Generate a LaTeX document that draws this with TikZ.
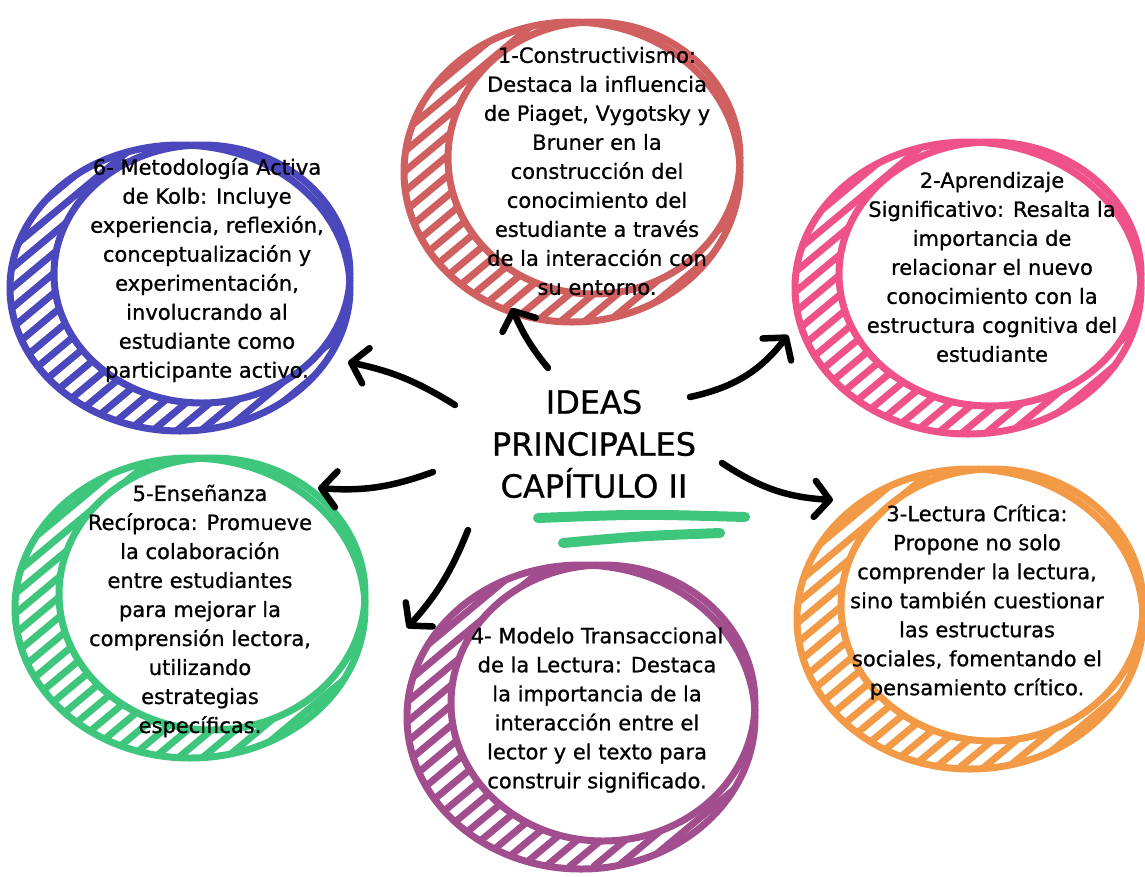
\documentclass[tikz,border=0pt]{standalone}
\usepackage{fontspec}
\setmainfont[FakeBold=0.8]{DejaVu Sans}
\usepackage{tikz}
\usetikzlibrary{arrows.meta,positioning}

\definecolor{rojo}{HTML}{D0605F}
\definecolor{rosa}{HTML}{EF5289}
\definecolor{naranja}{HTML}{F29A46}
\definecolor{morado}{HTML}{A24E8E}
\definecolor{verde}{HTML}{3DC67C}
\definecolor{azul}{HTML}{4B47BD}

\tikzset{
  rim/.style={line width=7pt},
  hatch/.style={line width=7pt},
  idea/.style={align=center, font=\fontsize{21}{29}\selectfont},
  arr/.style={line width=6.5pt, line cap=round,
    -{Straight Barb[length=15pt,width=36pt,round]}}
}

% bubble: centre x, centre y, x radius, y radius, colour
\newcommand{\bubble}[5]{%
  \begin{scope}
    \clip (#1,#2) ellipse [x radius=#3, y radius=#4];
    \foreach \k in {-18,...,18}
      \draw[hatch, draw=#5] ({#1+\k*24-180},{#2+150}) -- ++(360,-300);
  \end{scope}
  \fill[white] ({#1+22},{#2-14}) ellipse [x radius={#3-22}, y radius={#4-14}];
  \draw[rim, draw=#5] (#1,#2) ellipse [x radius=#3, y radius=#4];
  \draw[rim, draw=#5] ({#1+22},{#2-14}) ellipse [x radius={#3-22}, y radius={#4-14}];
}

\begin{document}
\begin{tikzpicture}[x=1pt,y=-1pt]
    \fill[white] (0,0) rectangle (1145,876);
    \useasboundingbox (0,0) rectangle (1145,876);

    %Bubbles
    \bubble{572}{172}{168}{150}{rojo}
    \bubble{968}{288}{173}{146}{rosa}
    \bubble{970}{619}{173}{150}{naranja}
    \bubble{581}{717}{174}{152}{morado}
    \bubble{190}{608}{175}{150}{verde}
    \bubble{180}{288}{170}{143}{azul}

    %Ideas
    \begin{scope}[every node/.style={idea}]
      \node (constr) at (597,171) {1-Constructivismo:\\Destaca la influencia\\de Piaget, Vygotsky y\\Bruner en la\\construcción del\\conocimiento del\\estudiante a través\\de la interacción con\\su entorno.};
      \node (aprend) at (992,267) {2-Aprendizaje\\Significativo: Resalta la\\importancia de\\relacionar el nuevo\\conocimiento con la\\estructura cognitiva del\\estudiante};
      \node (critica) at (977,602) {3-Lectura Crítica:\\Propone no solo\\comprender la lectura,\\sino también cuestionar\\las estructuras\\sociales, fomentando el\\pensamiento crítico.};
      \node (modelo) at (597,710) {4- Modelo Transaccional\\de la Lectura: Destaca\\la importancia de la\\interacción entre el\\lector y el texto para\\construir significado.};
      \node (ensen) at (200,611) {5-Enseñanza\\Recíproca: Promueve\\la colaboración\\entre estudiantes\\para mejorar la\\comprensión lectora,\\utilizando\\estrategias\\específicas.};
      \node (kolb) at (207,270) {6- Metodología Activa\\de Kolb: Incluye\\experiencia, reflexión,\\conceptualización y\\experimentación,\\involucrando al\\estudiante como\\participante activo.};
    \end{scope}

    %Title
    \node[align=center, font=\fontsize{32}{42}\selectfont] (title) at (594,444) {IDEAS\\PRINCIPALES\\CAPÍTULO II};
    \draw[verde, line width=10pt, line cap=round] (538,518) .. controls (640,514) .. (745,517);
    \draw[verde, line width=10pt, line cap=round] (563,543) .. controls (640,536) .. (720,533);

    %Arrows
    \coordinate (s1) at (548,368);  \coordinate (e1) at (512,308);
    \coordinate (s2) at (690,397);  \coordinate (e2) at (788,335);
    \coordinate (s3) at (722,463);  \coordinate (e3) at (833,500);
    \coordinate (s4) at (468,530);  \coordinate (e4) at (407,628);
    \coordinate (s5) at (433,472);  \coordinate (e5) at (318,488);
    \coordinate (s6) at (455,405);  \coordinate (e6) at (348,362);

    \begin{scope}[every edge/.style={draw, arr}]
      \path (s1) edge[bend left=8] (e1);
      \path (s2) edge[bend right=20] (e2);
      \path (s3) edge[bend right=15] (e3);
      \path (s4) edge[bend left=10] (e4);
      \path (s5) edge[bend left=12] (e5);
      \path (s6) edge[bend right=10] (e6);
    \end{scope}
\end{tikzpicture}
\end{document}
